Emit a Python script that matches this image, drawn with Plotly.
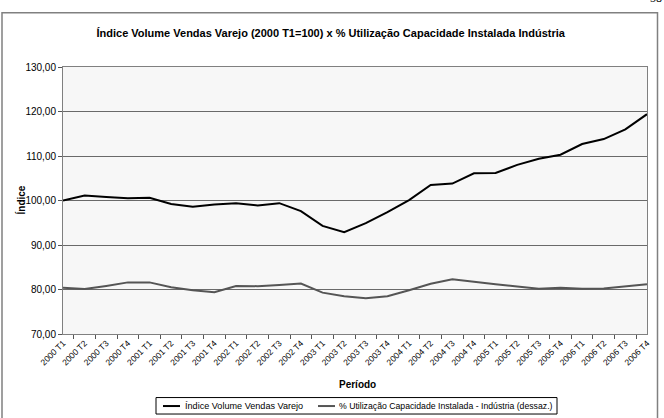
import plotly.graph_objects as go

periods = [f"{y} T{q}" for y in range(2000, 2007) for q in range(1, 5)]

varejo = [100.0, 101.1, 100.8, 100.5, 100.6, 99.2, 98.6, 99.1, 99.4, 98.9,
          99.4, 97.6, 94.3, 92.9, 94.9, 97.4, 100.1, 103.5, 103.8, 106.1,
          106.2, 108.0, 109.4, 110.3, 112.7, 113.8, 116.0, 119.4]

capacidade = [80.4, 80.1, 80.8, 81.6, 81.6, 80.5, 79.85, 79.4, 80.8, 80.75,
              81.0, 81.35, 79.3, 78.5, 78.05, 78.5, 79.85, 81.3, 82.3, 81.7,
              81.2, 80.7, 80.15, 80.4, 80.15, 80.2, 80.7, 81.2]

name_varejo = "Índice Volume Vendas Varejo"
name_cap = "% Utilização Capacidade Instalada - Indústria (dessaz.)"
title_text = "Índice Volume Vendas Varejo (2000 T1=100) x % Utilização Capacidade Instalada Indústria"

W, H = 664, 418
L, R, T, B = 63, 17, 66.7, 83.7
pw, ph = W - L - R, H - T - B

def px(x):
    return (x - L) / pw

def py(y):
    return (H - B - y) / ph

FONT = "Liberation Sans, Arial, sans-serif"
C_VAR = "#000000"
C_CAP = "#555555"

fig = go.Figure()
fig.add_trace(go.Scatter(x=periods, y=varejo, mode="lines", name=name_varejo,
                         line=dict(color=C_VAR, width=2), showlegend=False))
fig.add_trace(go.Scatter(x=periods, y=capacidade, mode="lines", name=name_cap,
                         line=dict(color=C_CAP, width=2), showlegend=False))

fig.update_layout(
    width=W, height=H,
    margin=dict(l=L, r=R, t=T, b=B, autoexpand=False),
    paper_bgcolor="#ffffff",
    plot_bgcolor="#f7f7f7",
    separators=",.",
    font=dict(family=FONT, size=10, color="#000000"),
    title=dict(text="<b>" + title_text + "</b>", x=0.498, xanchor="center",
               yref="container", y=(H - 33) / H, yanchor="middle",
               font=dict(family=FONT, size=11, color="#000000")),
    showlegend=False,
)

fig.update_xaxes(
    type="category", tickson="boundaries", ticks="outside", ticklen=4,
    tickcolor="#555555", tickangle=-45, tickfont=dict(size=8.5, family=FONT),
    showline=True, linecolor="#808080", linewidth=1, mirror=True,
    showgrid=False, zeroline=False, automargin=False,
)
fig.update_yaxes(
    range=[70, 130], dtick=10, tickformat=".2f", ticks="outside", ticklen=4,
    tickcolor="#555555", tickfont=dict(size=10, family=FONT),
    showline=True, linecolor="#808080", linewidth=1, mirror=True,
    showgrid=True, gridcolor="#6a6a6a", gridwidth=1, zeroline=False, automargin=False,
)

# axis titles
fig.add_annotation(text="<b>Índice</b>", x=px(20), y=py(200.5), xref="paper", yref="paper",
                   xanchor="center", yanchor="middle",
                   textangle=-90, showarrow=False, font=dict(size=10, family=FONT))
fig.add_annotation(text="<b>Período</b>", x=px(357), y=py(385), xref="paper", yref="paper",
                   xanchor="center", yanchor="middle",
                   showarrow=False, font=dict(size=10, family=FONT))
# page number partially cut at the top
fig.add_annotation(text="58", x=px(664), y=py(7), xref="paper", yref="paper",
                   xanchor="right", yanchor="bottom", showarrow=False,
                   font=dict(size=12, family="Liberation Serif, serif", color="#000000"))

# outer chart frame
fig.add_shape(type="rect", xref="paper", yref="paper",
              x0=px(2), x1=px(657.5), y0=py(430), y1=py(12.3),
              line=dict(color="#808080", width=1.5), fillcolor="rgba(0,0,0,0)", layer="below")

# legend box (drawn manually to keep the plot area fixed)
fig.add_shape(type="rect", xref="paper", yref="paper",
              x0=px(156), x1=px(557), y0=py(414.5), y1=py(398),
              line=dict(color="#000000", width=1), fillcolor="#ffffff")
legend_items = [(name_varejo, C_VAR, 163, 180, 182.5, 9.1), (name_cap, C_CAP, 318, 335, 336.5, 8.7)]
for name, col, lx0, lx1, tx, fs in legend_items:
    fig.add_shape(type="line", xref="paper", yref="paper",
                  x0=px(lx0), x1=px(lx1), y0=py(406.5), y1=py(406.5),
                  line=dict(color=col, width=2))
    fig.add_annotation(text=name, x=px(tx), y=py(406.5), xref="paper", yref="paper",
                       xanchor="left", yanchor="middle", showarrow=False,
                       font=dict(size=fs, family=FONT, color="#000000"))

fig.write_html("out.html", config={"displayModeBar": False},
               post_script="document.body.style.margin='0';document.body.style.padding='0';")
